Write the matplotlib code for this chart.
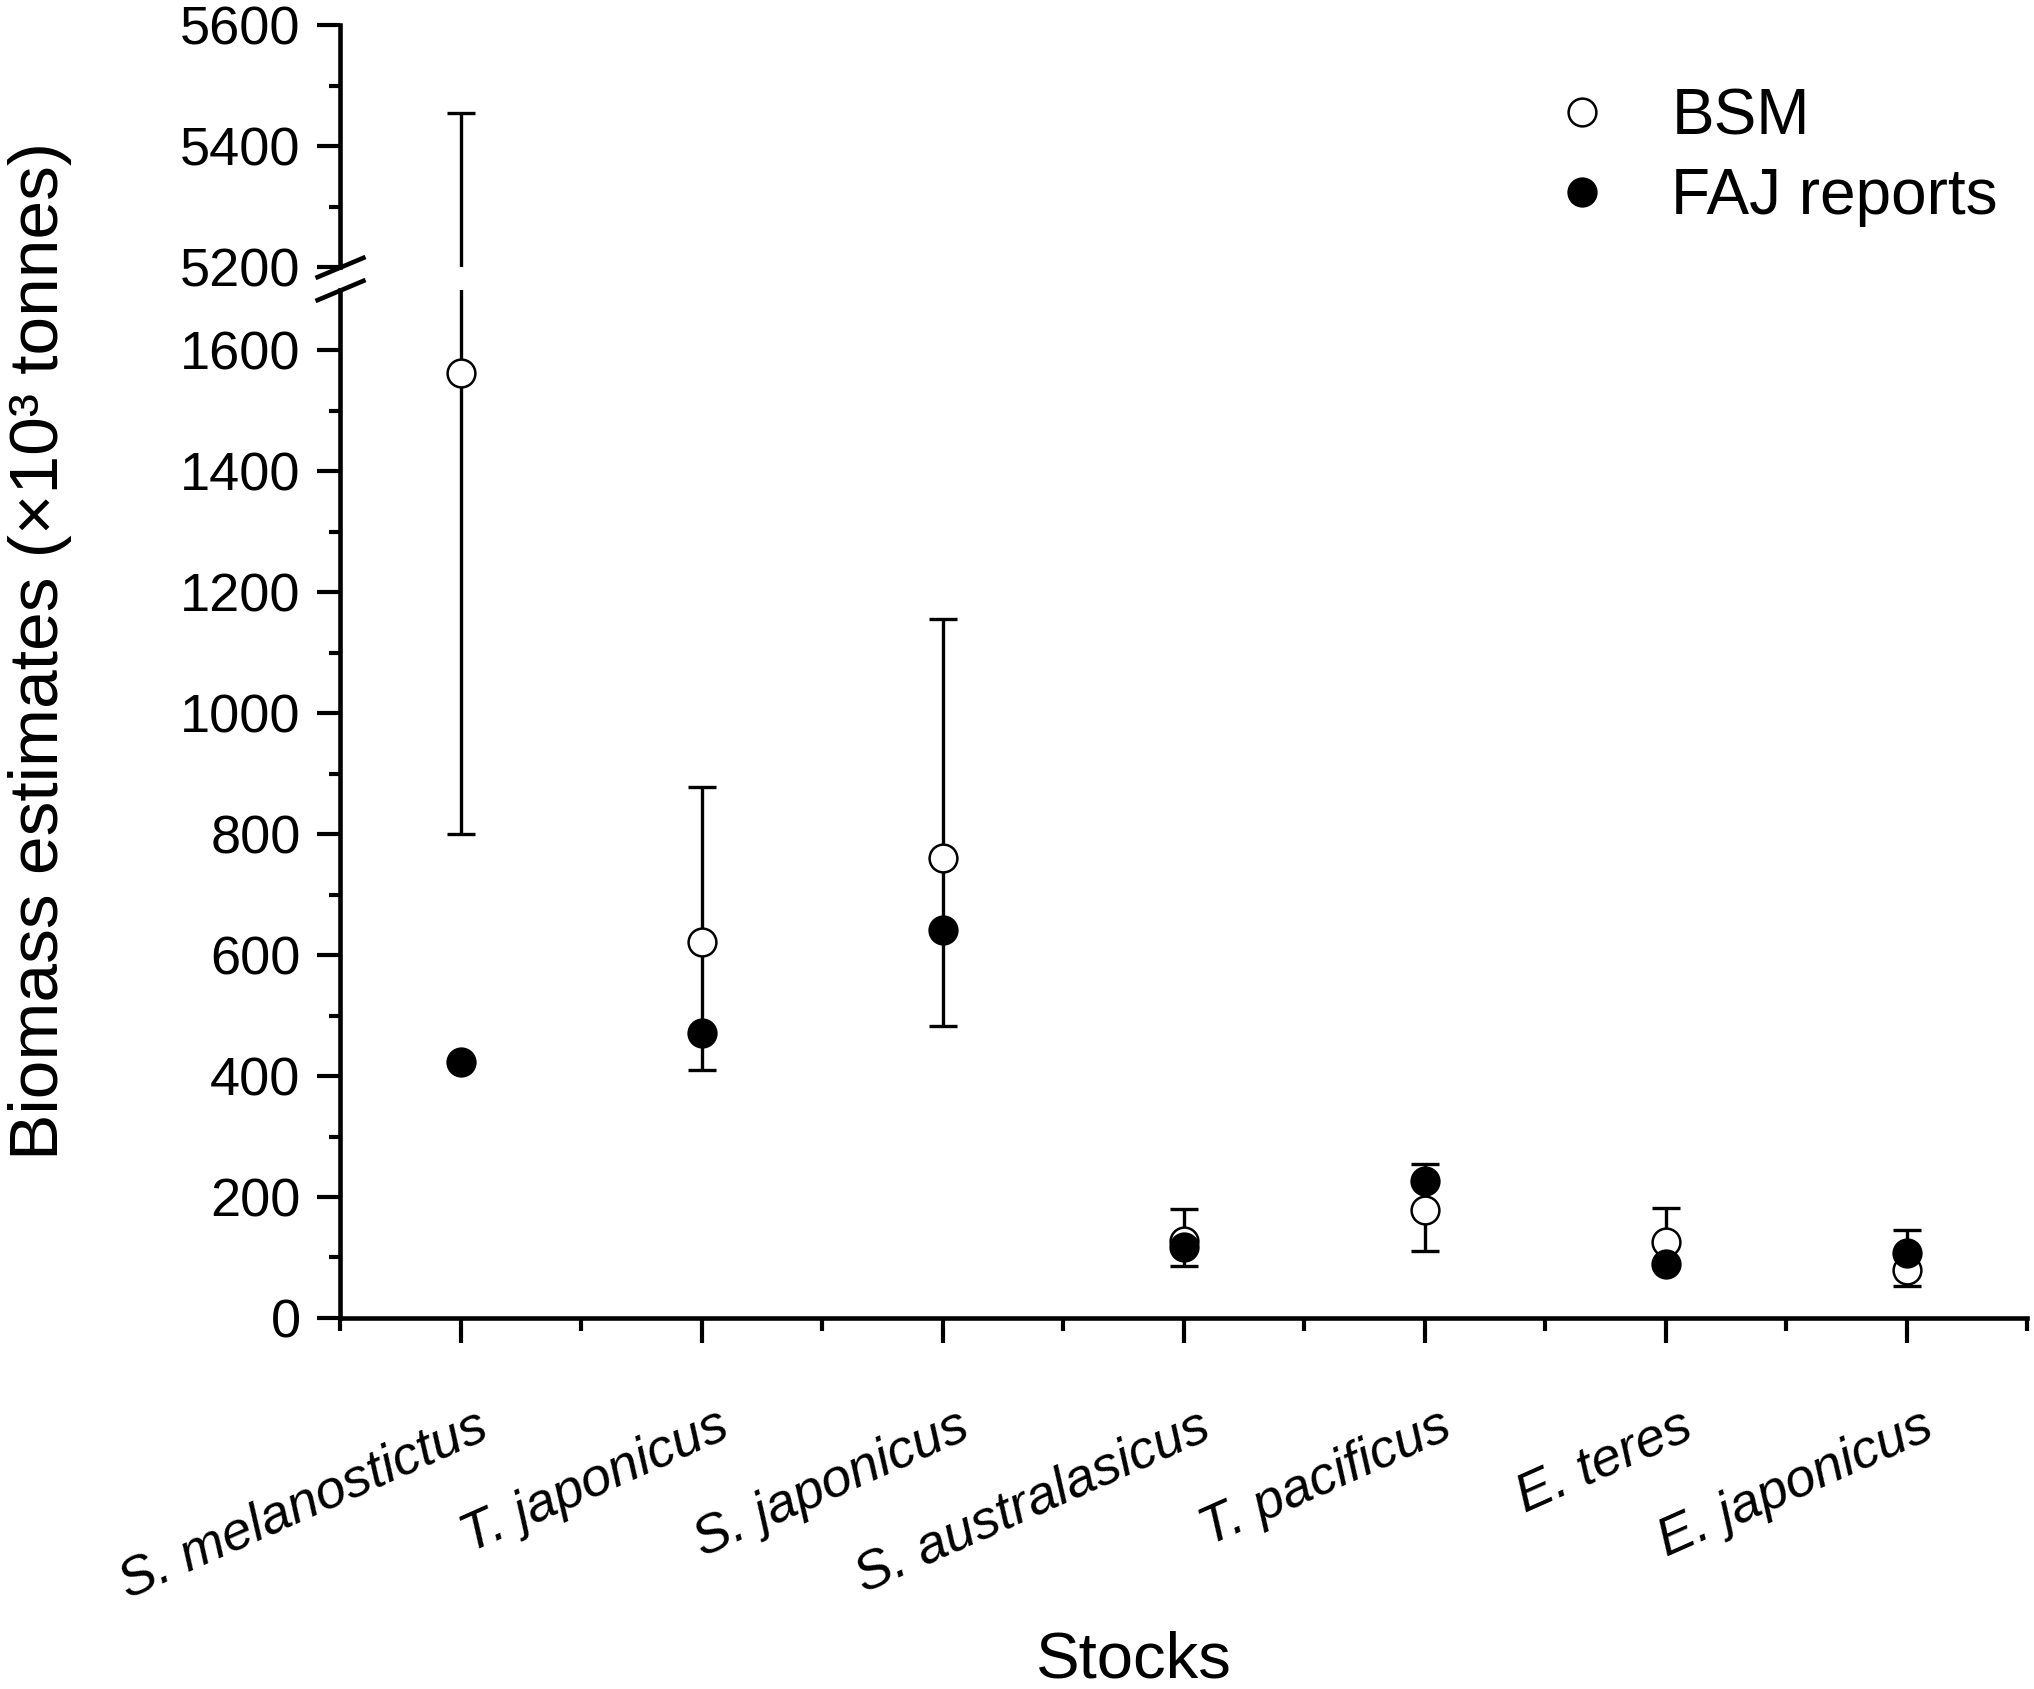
import matplotlib
matplotlib.use("Agg")
import matplotlib.pyplot as plt
import matplotlib.transforms as mtransforms
import numpy as np

plt.rcParams['font.family'] = ['Liberation Sans', 'DejaVu Sans']

# data (x10^3 tonnes)
stocks = ["S. melanostictus", "T. japonicus", "S. japonicus", "S. australasicus",
          "T. pacificus", "E. teres", "E. japonicus"]
bsm = [1562, 621, 760, 128, 178, 126, 80]
bsm_lo = [800, 410, 483, 86, 111, 89, 53]
bsm_hi = [5455, 878, 1156, 180, 254, 182, 145]
faj = [423, 471, 641, 118, 226, 90, 107]

x = np.arange(1, len(stocks) + 1)
bsm = np.array(bsm)
yerr = [bsm - np.array(bsm_lo), np.array(bsm_hi) - bsm]

fig = plt.figure(figsize=(20.34, 16.89), dpi=100)
ax_top = fig.add_axes([0.1672, 0.8419, 0.8294, 0.1433])
ax = fig.add_axes([0.1672, 0.2197, 0.8294, 0.6086])

for a in (ax_top, ax):
    a.errorbar(x, bsm, yerr=yerr, fmt='none', ecolor='k', elinewidth=2.4,
               capsize=10, capthick=2.4, zorder=2)
    h1, = a.plot(x, bsm, 'o', ms=20, mfc='white', mec='k', mew=1.8,
                 linestyle='none', zorder=3, label='BSM')
    h2, = a.plot(x, faj, 'o', ms=20, mfc='k', mec='k', mew=1.8,
                 linestyle='none', zorder=4, label='FAJ reports')
    a.set_xlim(0.5, 7.5)
    for s in ('top', 'right'):
        a.spines[s].set_visible(False)
    for s in ('left', 'bottom'):
        a.spines[s].set_linewidth(3.3)
    a.tick_params(axis='y', which='major', direction='out', length=16.5, width=3,
                  labelsize=39, pad=12)
    a.tick_params(axis='y', which='minor', direction='out', length=8, width=3)

ax_top.set_ylim(5200, 5600)
ax_top.set_yticks([5200, 5400, 5600])
ax_top.set_yticks([5300, 5500], minor=True)
ax_top.spines['bottom'].set_visible(False)
ax_top.tick_params(axis='x', which='both', bottom=False, labelbottom=False)

ax.set_ylim(0, 1700)
ax.set_yticks(np.arange(0, 1601, 200))
ax.set_yticks(np.arange(100, 1600, 200), minor=True)
ax.set_xticks(x)
ax.set_xticks(np.arange(0.5, 7.6, 1.0), minor=True)
ax.tick_params(axis='x', which='major', direction='out', length=18, width=3,
               labelbottom=False)
ax.tick_params(axis='x', which='minor', direction='out', length=9, width=3)

# rotated italic category labels
trans = mtransforms.offset_copy(ax.get_xaxis_transform(), fig=fig,
                                x=24, y=-106, units='dots')
for xi, name in zip(x, stocks):
    ax.text(xi, 0, name, transform=trans, rotation=24, rotation_mode='anchor',
            ha='right', va='center', fontsize=39, style='italic')

# axis break marks
kw = dict(marker=[(-1, -0.42), (1, 0.42)], markersize=36, linestyle='none',
          color='k', mec='k', mew=3.3, clip_on=False)
ax_top.plot([0], [0], transform=ax_top.transAxes, **kw)
ax.plot([0], [1], transform=ax.transAxes, **kw)

fig.text(40 / 2034, 0.6146, "Biomass estimates (×10³ tonnes)", rotation=90,
         ha='center', va='center', fontsize=50)
fig.text(1134 / 2034, 12 / 1689, "Stocks", ha='center', va='baseline', fontsize=47)

ax_top.legend([h1, h2], ['BSM', 'FAJ reports'], loc='upper left',
              bbox_to_anchor=(0.762, 0.948), bbox_transform=fig.transFigure,
              frameon=False, fontsize=46, handlelength=1.0, handletextpad=0.9,
              borderpad=0, borderaxespad=0, labelspacing=0.3, numpoints=1)

fig.savefig("out.png", dpi=100)
